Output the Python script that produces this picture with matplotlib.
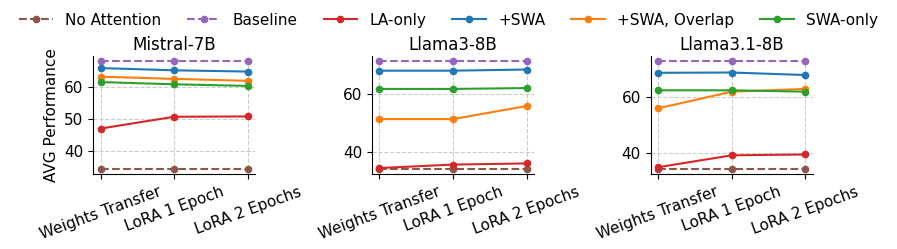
import matplotlib.pyplot as plt
from matplotlib.ticker import MultipleLocator

stages = ["Weights Transfer", "LoRA 1 Epoch", "LoRA 2 Epochs"]
models = ["Mistral-7B", "Llama3-8B", "Llama3.1-8B"]

no_attention = [[34.4, 34.4, 34.4], [34.2, 34.2, 34.2], [34.2, 34.2, 34.2]]
baseline = [[68.2, 68.2, 68.2], [71.3, 71.3, 71.3], [72.9, 72.9, 72.9]]
la_only = [[47.1, 50.8, 50.9], [34.5, 35.7, 36.1], [34.8, 39.1, 39.4]]
swa = [[66.1, 65.4, 65.0], [68.1, 68.1, 68.5], [68.8, 68.9, 68.0]]
swa_overlap = [[63.4, 62.7, 62.1], [51.4, 51.4, 55.9], [56.0, 62.0, 63.0]]
swa_only = [[61.7, 61.0, 60.5], [61.8, 61.8, 62.1], [62.5, 62.5, 62.0]]

series = [
    ("No Attention", no_attention, "tab:brown", "--"),
    ("Baseline", baseline, "tab:purple", "--"),
    ("LA-only", la_only, "tab:red", "-"),
    ("+SWA", swa, "tab:blue", "-"),
    ("+SWA, Overlap", swa_overlap, "tab:orange", "-"),
    ("SWA-only", swa_only, "tab:green", "-"),
]

plt.rcParams["font.size"] = 11

fig, axes = plt.subplots(1, 3, figsize=(8.97, 2.49))
fig.subplots_adjust(left=0.104, right=0.906, top=0.775, bottom=0.30, wspace=0.72)

for m, ax in enumerate(axes):
    for name, vals, color, ls in series:
        ax.plot(stages, vals[m], color=color, linestyle=ls, marker="o",
                markersize=4.5, linewidth=1.5, label=name)
    ax.set_title(models[m], fontsize=12, pad=4)
    ax.grid(True, linestyle="--", color="#cccccc", linewidth=0.8)
    ax.spines["top"].set_visible(False)
    ax.spines["right"].set_visible(False)
    ax.tick_params(axis="x", labelrotation=20)
    for lbl in ax.get_xticklabels():
        lbl.set_ha("center")

axes[0].yaxis.set_major_locator(MultipleLocator(10))
axes[0].set_ylabel("AVG Performance")

handles, labels = axes[0].get_legend_handles_labels()
fig.legend(handles, labels, loc="upper center", ncol=6, frameon=False,
           bbox_to_anchor=(0.5, 1.005), columnspacing=1.7, handlelength=2.2)

plt.savefig("out.png", dpi=100)
